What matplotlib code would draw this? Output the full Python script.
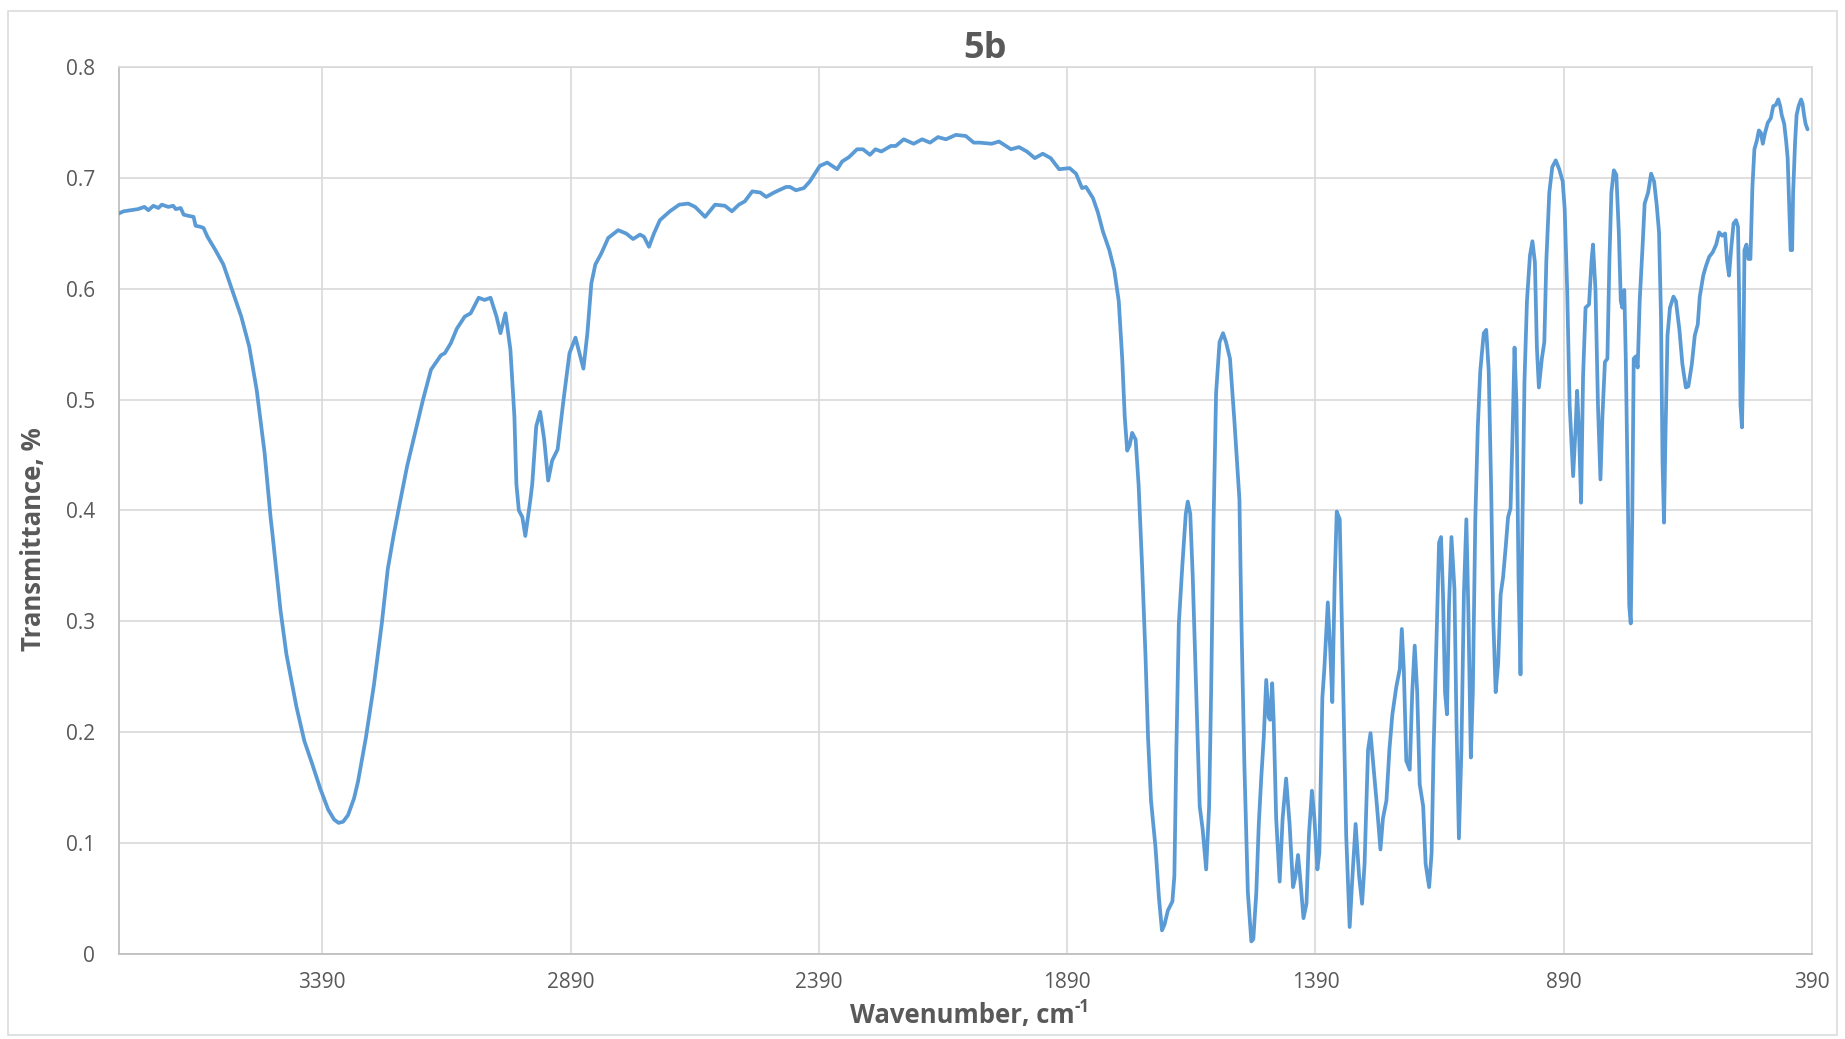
import matplotlib
matplotlib.use("Agg")
import matplotlib.pyplot as plt
from matplotlib.patches import Rectangle

plt.rcParams['font.family'] = ['Open Sans', 'DejaVu Sans']

# ---------------- data ----------------
wn_oh = [3800, 3790, 3775, 3761, 3748, 3740, 3730, 3720, 3713, 3700, 3690, 3685,
         3675, 3669, 3660, 3649, 3645, 3635, 3629, 3621, 3605, 3589, 3569, 3553,
         3537, 3522, 3506, 3494, 3490, 3474, 3462, 3450, 3442, 3426, 3410, 3394,
         3378, 3366, 3357, 3348, 3338, 3326, 3318, 3302, 3286, 3270, 3258, 3246, 3234,
         3219, 3203, 3187, 3171, 3151, 3143, 3131, 3119, 3103, 3091, 3075, 3063,
         3051, 3039, 3031, 3021, 3011, 3003, 2999, 2994, 2987, 2981, 2971, 2967,
         2959, 2951, 2943, 2935, 2927, 2916, 2904, 2892, 2880, 2872, 2864, 2856,
         2848, 2840, 2828, 2814, 2794]
t_oh = [0.668, 0.670, 0.671, 0.672, 0.674, 0.671, 0.675, 0.673, 0.676, 0.674, 0.675, 0.672,
        0.673, 0.667, 0.666, 0.665, 0.657, 0.656, 0.655, 0.647, 0.635, 0.622, 0.596, 0.575,
        0.548, 0.509, 0.452, 0.394, 0.378, 0.310, 0.270, 0.242, 0.223, 0.192, 0.171, 0.149,
        0.130, 0.121, 0.118, 0.119, 0.125, 0.140, 0.155, 0.195, 0.242, 0.298, 0.347, 0.378, 0.406,
        0.440, 0.470, 0.500, 0.527, 0.540, 0.542, 0.551, 0.564, 0.575, 0.578, 0.592, 0.590,
        0.592, 0.575, 0.560, 0.578, 0.545, 0.485, 0.424, 0.400, 0.394, 0.377, 0.409, 0.424,
        0.476, 0.489, 0.464, 0.427, 0.445, 0.455, 0.500, 0.542, 0.556, 0.542, 0.528, 0.560,
        0.605, 0.622, 0.632, 0.646, 0.653]

wn_mid = [2778, 2764, 2750, 2742, 2732, 2722, 2710, 2690, 2671, 2653, 2639, 2619,
          2599, 2579, 2565, 2551, 2539, 2524, 2508, 2496, 2480, 2456, 2448, 2436,
          2420, 2408, 2388, 2373, 2353, 2343, 2329, 2313, 2301, 2287, 2276, 2264,
          2245, 2235, 2219, 2199, 2182, 2166, 2150, 2134, 2114, 2094, 2078, 2066,
          2042, 2027, 2003, 1987, 1971, 1955, 1939, 1923, 1906]
t_mid = [0.650, 0.645, 0.649, 0.647, 0.638, 0.650, 0.662, 0.670, 0.676, 0.677, 0.674, 0.665,
         0.676, 0.675, 0.670, 0.676, 0.679, 0.688, 0.687, 0.683, 0.687, 0.692, 0.692, 0.689,
         0.691, 0.697, 0.711, 0.714, 0.708, 0.715, 0.719, 0.726, 0.726, 0.721, 0.726, 0.724,
         0.729, 0.729, 0.735, 0.731, 0.735, 0.732, 0.737, 0.735, 0.739, 0.738, 0.732, 0.732,
         0.731, 0.733, 0.726, 0.728, 0.724, 0.718, 0.722, 0.718, 0.708]

wn_fp1 = [1885, 1872, 1860, 1852, 1838, 1828, 1818, 1805, 1795, 1786, 1779, 1774,
          1769, 1764, 1759, 1752, 1746, 1739, 1732, 1727, 1721, 1712, 1705, 1699,
          1694, 1687, 1678, 1674, 1670, 1665, 1658, 1651, 1647, 1642, 1637, 1630,
          1623, 1617, 1610, 1604, 1600, 1595, 1590, 1583, 1576, 1570, 1562, 1553,
          1543, 1539, 1533, 1526, 1519, 1515, 1509, 1504, 1499, 1494, 1489, 1484,
          1481, 1477, 1474, 1469, 1462, 1456, 1449, 1442, 1435, 1430, 1425, 1421,
          1414, 1408, 1403, 1397, 1392, 1386, 1382, 1376, 1372, 1365, 1360, 1356,
          1351, 1347, 1341, 1335, 1328, 1321, 1316, 1309, 1302, 1296, 1291, 1284,
          1279, 1273, 1266, 1259, 1254, 1247, 1241, 1235, 1227, 1220, 1216, 1212,
          1207, 1200, 1195, 1190, 1185, 1180, 1173, 1168, 1161, 1156]
t_fp1 = [0.709, 0.704, 0.691, 0.692, 0.682, 0.669, 0.652, 0.635, 0.617, 0.589, 0.537, 0.485,
         0.454, 0.459, 0.470, 0.464, 0.423, 0.350, 0.267, 0.195, 0.138, 0.096, 0.050, 0.021,
         0.026, 0.039, 0.047, 0.070, 0.184, 0.298, 0.350, 0.397, 0.408, 0.397, 0.340, 0.236,
         0.133, 0.112, 0.076, 0.133, 0.236, 0.392, 0.506, 0.552, 0.560, 0.552, 0.537, 0.480,
         0.410, 0.300, 0.170, 0.055, 0.011, 0.013, 0.055, 0.117, 0.159, 0.195, 0.247, 0.213,
         0.211, 0.244, 0.210, 0.122, 0.065, 0.122, 0.158, 0.117, 0.060, 0.070, 0.089, 0.070,
         0.032, 0.045, 0.107, 0.147, 0.122, 0.076, 0.091, 0.231, 0.257, 0.317, 0.273, 0.227,
         0.340, 0.399, 0.392, 0.262, 0.107, 0.024, 0.065, 0.117, 0.070, 0.045, 0.081, 0.184,
         0.199, 0.169, 0.133, 0.094, 0.122, 0.138, 0.184, 0.216, 0.241, 0.257, 0.293, 0.257,
         0.174, 0.166, 0.236, 0.278, 0.236, 0.153, 0.133, 0.081, 0.060, 0.091]

wn_fp2 = [1152, 1146, 1141, 1137, 1133, 1129, 1125, 1121, 1116, 1110, 1106, 1101,
          1096, 1091, 1086, 1082, 1077, 1073, 1068, 1063, 1058, 1051, 1046, 1041,
          1036, 1032, 1027, 1022, 1017, 1012, 1007, 1002, 997, 993, 989, 985,
          981, 977, 973, 969, 964, 958, 953, 948, 944, 940, 934, 929,
          925, 919, 913, 906, 899, 892, 888, 883, 878, 871, 866, 863,
          859, 855, 851, 846, 839, 834, 831, 826, 821, 816, 812, 807, 802]
t_fp2 = [0.184, 0.288, 0.371, 0.376, 0.324, 0.236, 0.216, 0.314, 0.376, 0.329, 0.210, 0.104,
         0.184, 0.324, 0.392, 0.309, 0.177, 0.236, 0.392, 0.475, 0.526, 0.560, 0.563, 0.526,
         0.418, 0.304, 0.236, 0.262, 0.324, 0.340, 0.366, 0.394, 0.402, 0.469, 0.547, 0.495,
         0.340, 0.252, 0.392, 0.516, 0.589, 0.630, 0.643, 0.624, 0.547, 0.511, 0.537, 0.552,
         0.625, 0.687, 0.710, 0.716, 0.708, 0.697, 0.672, 0.599, 0.495, 0.431, 0.475, 0.508,
         0.469, 0.407, 0.521, 0.583, 0.586, 0.625, 0.640, 0.599, 0.495, 0.428, 0.485, 0.534, 0.537]

wn_fp3 = [798, 794, 789, 784, 779, 775, 772, 768, 765, 761, 758, 755,
          752, 749, 745, 741, 737, 731, 727, 720, 714, 708, 703, 698,
          694, 691, 688, 685, 681, 676, 669, 664, 657, 651, 644, 639,
          632, 626, 620, 616, 609, 604, 597, 590, 583, 577, 571, 565,
          561, 557, 553, 548, 543, 539, 536, 534, 531, 528, 526, 522,
          518, 514, 510, 506, 501, 497, 493, 489, 485, 479, 473, 468,
          463, 458, 454, 451, 446, 442, 439, 436, 433, 430, 428, 424,
          421, 417, 412, 409, 406, 403, 399]
t_fp3 = [0.625, 0.687, 0.707, 0.703, 0.651, 0.589, 0.583, 0.599, 0.537, 0.418, 0.314, 0.298,
         0.392, 0.537, 0.539, 0.529, 0.589, 0.640, 0.677, 0.687, 0.704, 0.697, 0.677, 0.651,
         0.573, 0.444, 0.389, 0.469, 0.558, 0.583, 0.593, 0.589, 0.563, 0.532, 0.511, 0.512,
         0.532, 0.558, 0.568, 0.593, 0.612, 0.620, 0.629, 0.633, 0.640, 0.651, 0.648, 0.650,
         0.625, 0.612, 0.635, 0.659, 0.662, 0.656, 0.573, 0.495, 0.475, 0.547, 0.635, 0.640,
         0.627, 0.627, 0.692, 0.726, 0.734, 0.743, 0.741, 0.731, 0.740, 0.750, 0.754, 0.765,
         0.766, 0.771, 0.765, 0.757, 0.749, 0.733, 0.718, 0.677, 0.635, 0.635, 0.687, 0.733,
         0.757, 0.765, 0.771, 0.767, 0.757, 0.749, 0.744]

x_ticks = [3390, 2890, 2390, 1890, 1390, 890, 390]
y_ticks = [0, 0.1, 0.2, 0.3, 0.4, 0.5, 0.6, 0.7, 0.8]
y_tick_labels = ['0', '0.1', '0.2', '0.3', '0.4', '0.5', '0.6', '0.7', '0.8']
title = '5b'
x_label = 'Wavenumber, cm'
x_label_sup = '-1'
y_label = 'Transmittance, %'

wavenumber = wn_oh + wn_mid + wn_fp1 + wn_fp2 + wn_fp3
transmittance = t_oh + t_mid + t_fp1 + t_fp2 + t_fp3

# ---------------- figure ----------------
W, H = 1845, 1039
fig = plt.figure(figsize=(W / 100, H / 100), dpi=100)
fig.patch.set_facecolor('white')

# chart-area border
fig.patches.append(Rectangle((8 / W, 4 / H), (W - 16) / W, (H - 15) / H,
                             transform=fig.transFigure, fill=False,
                             edgecolor='#D9D9D9', linewidth=1.1))

L, R, T, B = 118.6, 1812, 67.3, 953.6
ax = fig.add_axes([L / W, (H - B) / H, (R - L) / W, (B - T) / H])

ax.plot(wavenumber, transmittance, color='#5B9BD5', linewidth=2.7,
        solid_joinstyle='round', solid_capstyle='round', zorder=3)

ax.set_xlim(3800, 390)
ax.set_ylim(0, 0.8)
ax.set_xticks(x_ticks)
ax.set_xticklabels([str(v) for v in x_ticks])
ax.set_yticks(y_ticks)
ax.set_yticklabels(y_tick_labels)

ax.grid(True, color='#D9D9D9', linewidth=1.2, zorder=0)
ax.set_axisbelow(True)
for side in ['top', 'right']:
    ax.spines[side].set_color('#D9D9D9')
    ax.spines[side].set_linewidth(1.2)
for side in ['left', 'bottom']:
    ax.spines[side].set_color('#BFBFBF')
    ax.spines[side].set_linewidth(1.3)

ax.tick_params(axis='both', length=0, labelsize=15, labelcolor='#595959')
ax.tick_params(axis='y', pad=17)
ax.tick_params(axis='x', pad=13)

fig.text(985 / W, 1 - 49 / H, title, ha='center', va='center',
         fontsize=26, fontweight='bold', color='#595959')

fig.text(34 / W, 1 - 539 / H, y_label, rotation=90, ha='center', va='center',
         fontsize=18.5, fontweight='bold', color='#595959')

# x label with superscript
xl = fig.text(0, 1 - 1015 / H, x_label, ha='left', va='center',
              fontsize=18.5, fontweight='bold', color='#595959')
xs = fig.text(0, 0, x_label_sup, ha='left', va='baseline',
              fontsize=12, fontweight='bold', color='#595959')
fig.canvas.draw()
r = fig.canvas.get_renderer()
b1 = xl.get_window_extent(r)
b2 = xs.get_window_extent(r)
total = b1.width + b2.width
x0 = 970 - total / 2
xl.set_x(x0 / W)
xs.set_x((x0 + b1.width) / W)
xs.set_y((b1.y0 + b1.height * 0.62) / H)

fig.savefig('out.png', dpi=100, facecolor='white')
